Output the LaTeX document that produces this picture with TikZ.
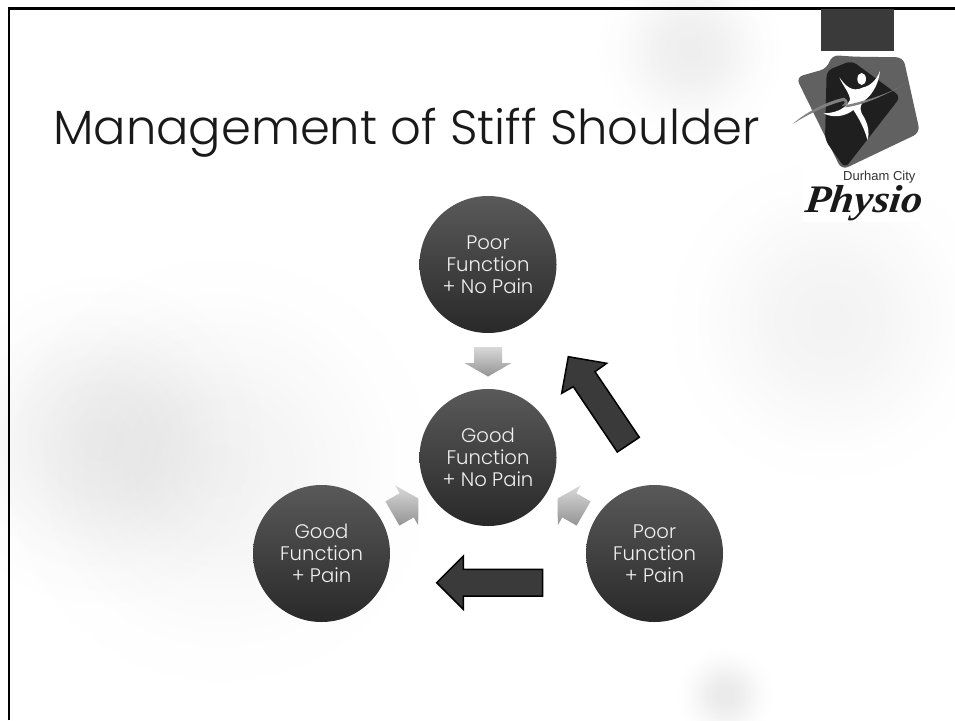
\documentclass[tikz,border=0pt]{standalone}
\usepackage{fontspec}
\setmainfont{Liberation Sans}
\newfontfamily\gothic{Poppins Light}
\newfontfamily\scripty[FakeStretch=1.08,FakeSlant=.12]{Liberation Serif}
\definecolor{arrowdark}{HTML}{3A3A3A}
\definecolor{inktext}{HTML}{F0F0F0}
\pgfdeclareradialshading{blobshade}{\pgfpoint{0bp}{0bp}}{
 color(0bp)=(black!10);
 color(4bp)=(black!9.5);
 color(8bp)=(black!8);
 color(12bp)=(black!5.5);
 color(16bp)=(black!3);
 color(20bp)=(black!1);
 color(25bp)=(white);
 color(50bp)=(white)}
\tikzset{
 blob/.style={shading=blobshade,blend mode=multiply,draw=none},
 disc/.style={circle,minimum size=137pt,inner sep=0pt,top color=black!65,bottom color=black!84,
   text=inktext,align=center,font=\gothic\fontsize{19.6}{22}\selectfont},
 softarrow/.style={top color=black!15,bottom color=black!42,draw=none},
 hardarrow/.style={fill=arrowdark,draw=black,line width=1.5pt,line join=miter},
}
\begin{document}
\begin{tikzpicture}[x=1pt,y=-1pt]
\useasboundingbox (0,0) rectangle (955,720);
\fill[white] (0,0) rectangle (955,720);
% soft background blobs
\begin{scope}
\clip (0,0) rectangle (955,720);
\shade[blob,opacity=.65] (690,50) circle (95);
\shade[blob,opacity=.45] (830,320) circle (165);
\shade[blob,opacity=.65] (100,440) circle (170);
\shade[blob,opacity=.45] (220,470) circle (220);
\shade[blob,opacity=.8] (725,695) circle (50);
\end{scope}
% frame
\draw[black,line width=2.2pt] (9,720) -- (9,8.5) -- (955,8.5);
\fill[arrowdark] (821,9) rectangle (894,51);
% title
\node[anchor=base west,inner sep=0pt,font=\gothic\fontsize{48}{50}\selectfont,text=black!90] (title) at (53,144) {Management of Stiff Shoulder};
% discs
\node[disc] (top) at (488,264.5) {Poor\\Function\\+ No Pain};
\node[disc] (mid) at (488,457.5) {Good\\Function\\+ No Pain};
\node[disc] (left) at (321.5,553.5) {Good\\Function\\+ Pain};
\node[disc] (right) at (654.5,553.5) {Poor\\Function\\+ Pain};
% soft arrows
\shade[softarrow] (474,347) -- (502,347) -- (502,363) -- (511.5,363) -- (488,376.5) -- (464.5,363) -- (474,363) -- cycle;
\shade[softarrow] (418.4,498.5) -- (418.2,525.2) -- (413.7,517.4) -- (399.4,525.6) -- (385.4,501.4) -- (399.7,493.2) -- (395.2,485.4) -- cycle;
\shade[softarrow] (557.6,498.5) -- (557.8,525.2) -- (562.3,517.4) -- (576.6,525.6) -- (590.6,501.4) -- (576.3,493.2) -- (580.8,485.4) -- cycle;
% hard arrows
\draw[hardarrow] (436.7,582.7) -- (463.3,556) -- (463.3,569.3) -- (542.7,569.3) -- (542.7,596) -- (463.3,596) -- (463.3,609.3) -- cycle;
\draw[hardarrow] (568.3,356.7) -- (606.7,363.3) -- (595,371.7) -- (639.3,437.3) -- (617.3,452) -- (573.3,386.7) -- (561.7,393.3) -- cycle;
% logo
\fill[white] (803,51) rectangle (920,222);
\begin{scope}[shift={(770,0)},x=.3333pt,y=-.3333pt]
 \fill[black!62,rounded corners=7pt] (78,232) -- (172,205) -- (185,165) -- (250,170) -- (400,172) -- (450,398) -- (215,510) -- cycle;
 \fill[black!88,rounded corners=6pt] (170,212) -- (245,182) -- (392,290) -- (225,505) -- (165,420) -- cycle;
 % dancer
 \fill[white] (208,232) .. controls (225,255) and (245,280) .. (280,262)
   .. controls (300,258) and (320,240) .. (330,213)
   .. controls (325,260) and (300,290) .. (285,300)
   .. controls (272,312) and (268,322) .. (275,340)
   .. controls (295,370) and (300,400) .. (292,420)
   .. controls (285,390) and (270,360) .. (250,330)
   .. controls (225,350) and (190,355) .. (160,340)
   .. controls (190,340) and (225,330) .. (240,300)
   .. controls (240,280) and (220,260) .. (208,232) -- cycle;
 \fill[white] (275,237) ellipse (13 and 18);
 % swoosh
 \fill[black!50] (68,372) .. controls (110,335) and (170,305) .. (222,293)
   .. controls (235,300) and (238,312) .. (225,322)
   .. controls (270,318) and (340,290) .. (412,248)
   .. controls (350,285) and (280,305) .. (215,318)
   .. controls (225,310) and (228,305) .. (220,303)
   .. controls (170,315) and (110,345) .. (68,372) -- cycle;
\end{scope}
\node[anchor=base west,inner sep=0pt,font=\fontsize{13}{14}\selectfont,text=black!80] (durham) at (843,180) {Durham City};
\node[anchor=base west,inner sep=0pt,font=\scripty\bfseries\itshape\fontsize{39}{40}\selectfont,text=black!90] (physio) at (804,212) {Physio};
\end{tikzpicture}
\end{document}
